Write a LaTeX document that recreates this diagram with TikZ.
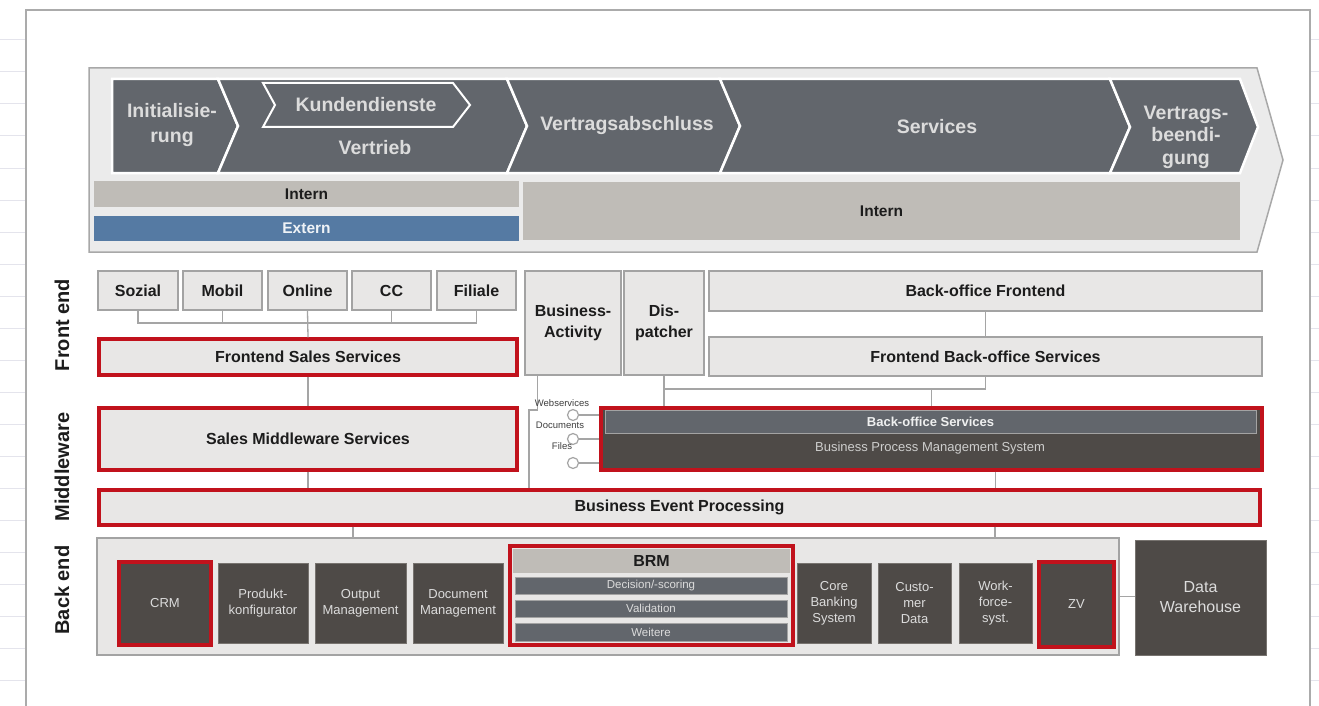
\documentclass[tikz,border=0pt]{standalone}
\usepackage{fontspec}
\setmainfont{Liberation Sans}

\definecolor{lightfill}{HTML}{E8E7E6}
\definecolor{boxline}{HTML}{A3A3A3}
\definecolor{redline}{HTML}{C1121C}
\definecolor{darkfill}{HTML}{4E4A47}
\definecolor{darkedge}{HTML}{77736F}
\definecolor{slate}{HTML}{62666C}
\definecolor{warmgray}{HTML}{BFBCB7}
\definecolor{steelblue}{HTML}{557AA3}
\definecolor{bannerfill}{HTML}{EBEBEB}
\definecolor{bannerline}{HTML}{A8A8A8}
\definecolor{gridline}{HTML}{E4E4EC}
\definecolor{frameline}{HTML}{ABABAB}
\definecolor{connline}{HTML}{A5A5A5}
\definecolor{ink}{HTML}{1C1C1C}
\definecolor{paletext}{HTML}{DCDCDC}

\newcommand\fChev{\fontsize{19.5}{25}\selectfont\bfseries}
\newcommand\fChevB{\fontsize{19.5}{22.5}\selectfont\bfseries}
\newcommand\fLab{\fontsize{16}{21}\selectfont\bfseries}
\newcommand\fBar{\fontsize{15.5}{18}\selectfont\bfseries}
\newcommand\fSide{\fontsize{20}{22}\selectfont\bfseries}
\newcommand\fSmall{\fontsize{13}{16}\selectfont}
\newcommand\fData{\fontsize{16}{20}\selectfont}
\newcommand\fTiny{\fontsize{11.5}{13}\selectfont}
\newcommand\fMini{\fontsize{9.5}{11}\selectfont}

% node from its corner coordinates: style, x1, y1, x2, y2, name
\newcommand\boxat[6]{\node[#1, minimum width={#4-#2}, minimum height={#5-#3}]
  (#6) at ({(#2+#4)/2},{(#3+#5)/2})}

\begin{document}
\begin{tikzpicture}[x=1pt, y=-1pt, line join=miter,
  lbox/.style={draw=boxline, fill=lightfill, line width=1.4pt, inner sep=0pt,
    text=ink, font=\fLab, align=center},
  rbox/.style={lbox, draw=redline, line width=3.4pt},
  dbox/.style={draw=darkedge, line width=0.8pt, fill=darkfill, inner sep=0pt,
    text=paletext, font=\fSmall, align=center},
  rdbox/.style={dbox, draw=redline, line width=3.4pt},
  sbar/.style={draw=boxline, line width=0.8pt, fill=slate, inner sep=0pt,
    text=paletext, font=\fTiny},
  band/.style={draw=none, inner sep=0pt, font=\fBar, text=ink},
  chev/.style={fill=slate, draw=white, line width=2.5pt},
  chevtext/.style={text=paletext, font=\fChev, align=center, inner sep=0pt},
  side/.style={rotate=90, font=\fSide, text=ink, inner sep=0pt},
  conn/.style={draw=connline, line width=1.3pt},
  lolly/.style={circle, draw=connline, fill=white, line width=1.2pt,
    minimum size=11pt, inner sep=0pt},
  mini/.style={font=\fMini, text=ink!85, inner sep=0pt}]

\useasboundingbox (0,0) rectangle (1319,706);
\fill[white] (0,0) rectangle (1319,706);

% sheet grid on both sides and the page frame
\foreach \y in {40,72,...,680} {
  \draw[gridline, line width=1pt] (0,\y) -- (25,\y);
  \draw[gridline, line width=1pt] (1311,\y) -- (1319,\y);
}
\draw[frameline, line width=1.5pt] (26,706) -- (26,10) -- (1310,10) -- (1310,706);

% process banner
\draw[fill=bannerfill, draw=bannerline, line width=1.5pt]
  (89,68) -- (1257,68) -- (1283,160) -- (1257,252) -- (89,252) -- cycle;
\filldraw[chev] (112,79) -- (218,79) -- (238,126) -- (218,173) -- (112,173) -- cycle;
\filldraw[chev] (218,79) -- (507,79) -- (527,126) -- (507,173) -- (218,173) -- (238,126) -- cycle;
\filldraw[chev] (507,79) -- (720,79) -- (740,126) -- (720,173) -- (507,173) -- (527,126) -- cycle;
\filldraw[chev] (720,79) -- (1110,79) -- (1130,127) -- (1110,173) -- (720,173) -- (740,126) -- cycle;
\filldraw[chev] (1110,79) -- (1240,79) -- (1258,127) -- (1240,173) -- (1110,173) -- (1130,127) -- cycle;
\filldraw[chev, line width=2pt] (263,83) -- (453,83) -- (470,105) -- (453,127) -- (263,127) -- (275,105) -- cycle;

\node[chevtext] (init) at (172,125) {Initialisie-\\rung};
\node[chevtext] (kunden) at (366,105) {Kundendienste};
\node[chevtext] (vertrieb) at (375,148) {Vertrieb};
\node[chevtext] (abschluss) at (627,126) {Vertragsabschluss};
\node[chevtext] (services) at (937,127) {Services};
\node[chevtext, font=\fChevB] (beendigung) at (1186,137) {Vertrags-\\beendi-\\gung};

\boxat{band, fill=warmgray}{94}{181}{519}{207}{internL} {Intern};
\boxat{band, fill=steelblue, text=white!90!steelblue}{94}{216}{519}{241}{externL} {Extern};
\boxat{band, fill=warmgray}{523}{182}{1240}{240}{internR} {Intern};

% layer labels
\node[side] (lfront) at (62,325) {Front end};
\node[side] (lmiddle) at (62,467) {Middleware};
\node[side] (lback) at (62,590) {Back end};

% front end channels
\boxat{lbox}{98}{271}{178}{310}{sozial} {Sozial};
\boxat{lbox}{183}{271}{262}{310}{mobil} {Mobil};
\boxat{lbox}{268}{271}{347}{310}{online} {Online};
\boxat{lbox}{352}{271}{431}{310}{cc} {CC};
\boxat{lbox}{437}{271}{516}{310}{filiale} {Filiale};

\boxat{rbox}{99}{339}{517}{375}{fss} {Frontend Sales Services};
\boxat{rbox}{99}{408}{517}{470}{sms} {Sales Middleware Services};
\boxat{rbox}{99}{490}{1260}{525}{bep} {Business Event Processing};

\boxat{lbox}{525}{271}{621}{375}{ba} {Business-\\Activity};
\boxat{lbox}{624}{271}{704}{375}{disp} {Dis-\\patcher};
\boxat{lbox}{709}{271}{1262}{311}{bof} {Back-office Frontend};
\boxat{lbox}{709}{337}{1262}{376}{fbos} {Frontend Back-office Services};

% back-office middleware
\boxat{rdbox}{601}{408}{1262}{470}{bpms} {};
\boxat{sbar, font=\fSmall\bfseries, text=white!90!slate}{605}{410}{1256}{433}{bos} {Back-office Services};
\node[font=\fSmall, text=paletext!90!darkfill, inner sep=0pt] (bpmslabel) at (930,448)
  {Business Process Management System};

% channel bus
\coordinate (feBus) at (0,323);
\draw[conn] (sozial.south) -- (sozial.south |- feBus) -- (filiale.south |- feBus) -- (filiale.south);
\draw[conn] (mobil.south) -- (mobil.south |- feBus);
\draw[conn] (cc.south) -- (cc.south |- feBus);
\draw[conn] (online.south) -- (fss.north);
\draw[conn] (fss.south) -- (sms.north);
\draw[conn] (sms.south) -- (sms.south |- bep.north);

% back-office links
\coordinate (midBus) at (0,389);
\draw[conn] (bof.south) -- (fbos.north);
\draw[conn] (fbos.south) -- (fbos.south |- midBus) -- (disp.south |- midBus);
\draw[conn] (disp.south) -- (disp.south |- bpms.north);
\draw[conn] (bpms.north |- midBus) -- (bpms.north);
\draw[conn] ([xshift=64pt]bpms.south) -- ([xshift=64pt]bpms.south |- bep.north);

\coordinate (baJog) at (529,410);
\draw[conn] ([xshift=13pt]ba.south west) |- (baJog) -- (baJog |- bep.north);

% service interfaces
\foreach \n/\y in {ws/415, docs/439, files/463} {
  \node[lolly] (\n) at (573,\y) {};
  \draw[conn] (\n.east) -- (\n.east -| bpms.west);
}
\node[mini] (wslabel) at (562,403) {Webservices};
\node[mini] (docslabel) at (560,425) {Documents};
\node[mini] (fileslabel) at (562,446) {Files};

% back end
\boxat{lbox}{97}{538}{1119}{655}{be} {};
\coordinate (beIn1) at (353,538);
\coordinate (beIn2) at (995,538);
\draw[conn] (beIn1 |- bep.south) -- (beIn1);
\draw[conn] (beIn2 |- bep.south) -- (beIn2);

\boxat{rdbox}{119}{562}{211}{645}{crm} {CRM};
\boxat{dbox}{218}{563}{308}{643}{produkt} {Produkt-\\konfigurator};
\boxat{dbox}{315}{563}{406}{643}{output} {Output\\Management};
\boxat{dbox}{413}{563}{503}{643}{document} {Document\\Management};

\boxat{rbox}{510}{546}{793}{645}{brm} {};
\boxat{band, fill=warmgray, font=\fLab}{513}{549}{790}{573}{brmhead} {BRM};
\boxat{sbar}{515}{577}{787}{594}{decision} {Decision/-scoring};
\boxat{sbar}{515}{600}{787}{617}{validation} {Validation};
\boxat{sbar}{515}{623}{787}{641}{weitere} {Weitere};

\boxat{dbox}{797}{563}{871}{643}{core} {Core\\Banking\\System};
\boxat{dbox}{878}{563}{951}{643}{customer} {Custo-\\mer\\Data};
\boxat{dbox}{959}{563}{1032}{643}{workforce} {Work-\\force-\\syst.};
\boxat{rdbox}{1039}{562}{1114}{647}{zv} {ZV};

\boxat{dbox, font=\fData}{1135}{540}{1266}{655}{dw} {Data\\Warehouse};
\draw[conn] (be.east) -- (dw.west |- be.east);

\end{tikzpicture}
\end{document}
